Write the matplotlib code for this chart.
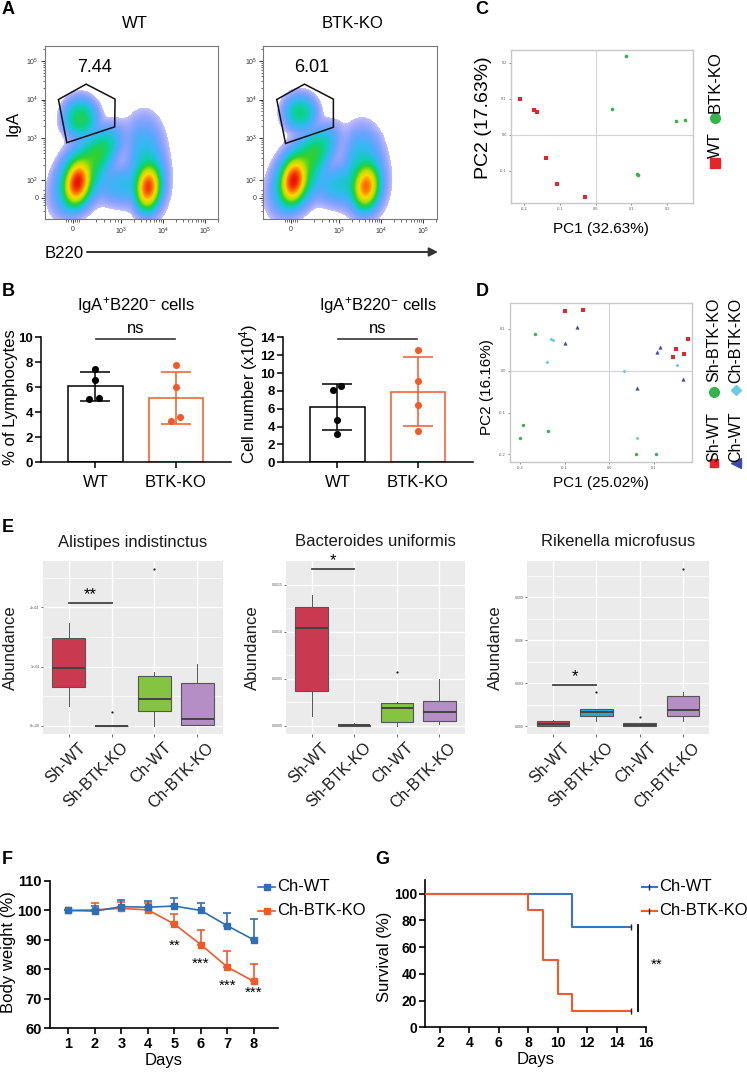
import numpy as np
import matplotlib
matplotlib.use("Agg")
import matplotlib.pyplot as plt
import matplotlib.transforms as mtrans
from matplotlib.colors import LinearSegmentedColormap

plt.rcParams['font.family'] = ['Liberation Sans', 'DejaVu Sans']
plt.rcParams['mathtext.fontset'] = 'custom'
plt.rcParams['mathtext.rm'] = 'Liberation Sans'
plt.rcParams['mathtext.it'] = 'Liberation Sans:italic'
plt.rcParams['mathtext.bf'] = 'Liberation Sans:bold'

# ======================= DATA =======================
# --- A: flow cytometry (transformed axis units: decades) ---
flow_groups = ['WT', 'BTK-KO']
gate_percent = ['7.44', '6.01']
gate_u = [[1.51, 2.17, 2.86, 2.85, 1.71], [1.51, 2.17, 2.86, 2.86, 1.72]]
gate_v = [[4.00, 4.40, 4.01, 3.29, 2.88], [4.00, 4.40, 4.01, 3.28, 2.86]]
# populations: (B220 centre, IgA centre, sd B220, sd IgA, correlation, relative weight)
wt_populations = [
    (1.95, 1.82, 0.13, 0.24, 0.20, 1.00),
    (2.00, 1.95, 0.28, 0.42, 0.35, 0.10),
    (2.45, 2.60, 0.26, 0.33, 0.50, 0.07),
    (2.02, 3.50, 0.20, 0.26, 0.00, 0.075),
    (3.65, 1.70, 0.12, 0.24, 0.10, 0.80),
    (3.65, 1.90, 0.22, 0.45, 0.00, 0.05),
    (3.00, 1.75, 0.33, 0.28, 0.00, 0.02),
    (3.55, 2.80, 0.25, 0.45, 0.00, 0.015),
]
ko_populations = [
    (1.91, 1.87, 0.13, 0.24, 0.20, 1.00),
    (1.98, 1.95, 0.28, 0.42, 0.35, 0.10),
    (2.40, 2.60, 0.26, 0.33, 0.50, 0.065),
    (2.06, 3.65, 0.20, 0.24, 0.00, 0.055),
    (3.65, 1.72, 0.13, 0.24, 0.10, 0.60),
    (3.60, 1.90, 0.25, 0.45, 0.00, 0.05),
    (3.00, 1.75, 0.33, 0.28, 0.00, 0.025),
    (3.55, 2.70, 0.25, 0.40, 0.00, 0.012),
]

# --- B: bar charts ---
b_groups = ['WT', 'BTK-KO']
pct_mean = [6.08, 5.17]
pct_sd = [1.14, 2.08]
pct_wt = [7.44, 6.61, 5.06, 5.14]
pct_ko = [7.76, 6.00, 3.33, 3.60]
cell_mean = [6.16, 7.90]
cell_sd = [2.57, 3.85]
cell_wt = [8.13, 8.51, 4.74, 3.20]
cell_ko = [12.57, 9.10, 6.45, 3.50]

# --- C: PCoA WT vs BTK-KO ---
c_wt_pc1 = [-0.212, -0.171, -0.163, -0.137, -0.109, -0.029]
c_wt_pc2 = [0.100, 0.070, 0.063, -0.065, -0.138, -0.172]
c_ko_pc1 = [0.085, 0.046, 0.224, 0.249, 0.117, 0.118]
c_ko_pc2 = [0.218, 0.073, 0.037, 0.042, -0.108, -0.112]

# --- D: PCoA four groups ---
d_shwt_pc1 = [-0.098, -0.059, 0.149, 0.142, 0.166, 0.175]
d_shwt_pc2 = [0.142, 0.145, 0.053, 0.034, 0.040, 0.077]
d_shko_pc1 = [-0.166, -0.194, -0.199, -0.136, 0.059, 0.104]
d_shko_pc2 = [0.088, -0.130, -0.160, -0.143, -0.200, -0.199]
d_chwt_pc1 = [-0.073, -0.100, 0.106, 0.114, 0.164, 0.062]
d_chwt_pc2 = [0.105, 0.067, 0.044, 0.057, -0.019, -0.042]
d_chko_pc1 = [-0.130, -0.125, -0.140, 0.034, 0.151, 0.063]
d_chko_pc2 = [0.075, 0.073, 0.022, 0.000, 0.015, -0.161]

# --- E: box plots (whislo, q1, med, q3, whishi, fliers) ---
e_groups = ['Sh-WT', 'Sh-BTK-KO', 'Ch-WT', 'Ch-BTK-KO']
e_titles = ['Alistipes indistinctus', 'Bacteroides uniformis', 'Rikenella microfusus']
alistipes = [(0.34, 0.66, 0.98, 1.48, 1.73, []),
             (0.0, 0.0, 0.0, 0.0, 0.0, [0.23]),
             (0.0, 0.26, 0.46, 0.84, 0.905, [2.65]),
             (0.01, 0.022, 0.118, 0.725, 1.04, [])]          # x 1e-4
bacteroides = [(1.1, 3.7, 10.4, 12.6, 13.9, []),
               (0.0, 0.0, 0.08, 0.15, 0.29, []),
               (0.0, 0.39, 1.87, 2.4, 2.5, [5.7]),
               (0.18, 0.53, 1.48, 2.6, 5.0, [])]             # x 1e-4
rikenella = [(0.0, 0.0, 0.14, 0.37, 0.44, []),
             (0.39, 0.74, 1.0, 1.19, 1.19, [2.39]),
             (0.0, 0.02, 0.11, 0.2, 0.25, [0.67]),
             (0.39, 0.74, 1.14, 2.09, 2.39, [11.0])]         # x 1e-3
e_yticks = [[0, 1, 2], [0, 5, 10, 15], [0, 3, 6, 9]]
e_yticklabels = [['0e+00', '1e-04', '2e-04'],
                 ['0.0000', '0.0005', '0.0010', '0.0015'],
                 ['0.000', '0.003', '0.006', '0.009']]
e_sig = [('**', 2.08), ('*', 16.7), ('*', 2.88)]

# --- F: body weight ---
days = [1, 2, 3, 4, 5, 6, 7, 8]
wt_weight = [100.0, 99.8, 101.3, 101.1, 101.5, 100.0, 94.8, 90.0]
wt_weight_err = [0.0, 1.7, 2.4, 2.0, 2.8, 2.4, 4.5, 7.1]
ko_weight = [100.0, 100.2, 100.7, 100.2, 95.4, 88.4, 80.8, 75.9]
ko_weight_err = [0.0, 2.4, 2.2, 2.4, 3.4, 4.9, 5.4, 6.0]
f_star_days = [5, 6, 7, 8]
f_star_text = ['**', '***', '***', '***']
f_star_y = [88.0, 81.8, 74.5, 72.1]

# --- G: survival ---
wt_surv_t = [1, 11, 15]
wt_surv = [100, 75, 75]
ko_surv_t = [1, 8, 9, 10, 11, 15]
ko_surv = [100, 87.5, 50, 25, 12.5, 12.5]

# ======================= FIGURE =======================
W, H = 747, 1072
fig = plt.figure(figsize=(W / 100, H / 100), dpi=100)


def pax(l, t, r, b, **kw):
    return fig.add_axes([l / W, 1 - b / H, (r - l) / W, (b - t) / H], **kw)


ORANGE = '#F15A29'
BLUE = '#2F6DB5'

# ---------- A ----------
flow_cmap = LinearSegmentedColormap.from_list(
    'flow', ['#2a2af5', '#1868ff', '#00a8f0', '#00d0a0', '#30d030', '#b8e000',
             '#ffd800', '#ff7000', '#e81000'])
xl, yl = (1.19, 5.32), (0.89, 5.39)
uu = np.linspace(xl[0], xl[1], 175)
vv = np.linspace(yl[0], yl[1], 175)
U, V = np.meshgrid(uu, vv)
for k, (left, pops) in enumerate([(45, wt_populations), (263.3, ko_populations)]):
    ax = pax(left, 46, left + 173.3, 219.3)
    D = np.zeros_like(U)
    for (cu, cv, su, sv, r, w) in pops:
        du = (U - cu) / su
        dv = (V - cv) / sv
        D += w * np.exp(-0.5 * (du * du - 2 * r * du * dv + dv * dv) / (1 - r * r))
    L = np.log10(D / D.max())
    lo = -2.9
    t = np.clip((L - lo) / (-lo), 0, 1) ** 1.5
    rgba = flow_cmap(t)
    rgba[..., 3] = np.clip(0.28 + (L - lo) * 0.45, 0, 1)
    rgba[L < lo] = (1, 1, 1, 0)
    ax.imshow(rgba, extent=(xl[0], xl[1], yl[0], yl[1]), origin='lower',
              interpolation='nearest', aspect='auto')
    ax.fill(gate_u[k] + [gate_u[k][0]], gate_v[k] + [gate_v[k][0]], facecolor='none',
            edgecolor='#111111', lw=1.1)
    ax.set_xlim(xl)
    ax.set_ylim(yl)
    ax.set_xticks([1.85, 3, 4, 5], ['0', '$10^3$', '$10^4$', '$10^5$'])
    ax.set_yticks([1.45, 1.9, 3, 4, 5], ['0', '$10^2$', '$10^3$', '$10^4$', '$10^5$'])
    mx = [1.70, 1.75, 1.80, 1.90, 1.95, 2.0, 2.4, 2.6, 2.75, 2.85, 2.92]
    mx += [d + np.log10(m) for d in (3, 4) for m in range(2, 10)] + [5 + np.log10(2)]
    my = [1.1, 1.25, 1.35, 1.40, 1.50, 1.55, 1.65]
    my += [d + np.log10(m) for d in (2, 3, 4) for m in range(2, 10)] + [5 + np.log10(2)]
    ax.set_xticks(mx, minor=True)
    ax.set_yticks(my, minor=True)
    ax.tick_params(which='major', length=3, width=0.7, labelsize=5, pad=1.5, colors='#333333')
    ax.tick_params(which='minor', length=1.8, width=0.5, colors='#333333')
    for s in ax.spines.values():
        s.set_color('#777777')
        s.set_linewidth(0.8)

# ---------- B ----------
b_jit_pct = [[0.0, 0.0, -0.075, 0.05], [0.0, 0.0, -0.06, 0.055]]
b_jit_cell = [[-0.06, 0.05, 0.0, 0.0], [0.0, 0.0, 0.0, 0.0]]
for (left, means, sds, pts, jit, ymax) in [
        (40.7, pct_mean, pct_sd, [pct_wt, pct_ko], b_jit_pct, 10),
        (282.7, cell_mean, cell_sd, [cell_wt, cell_ko], b_jit_cell, 14)]:
    ax = pax(left, 337.3, left + 190, 462.3)
    cols = ['black', ORANGE]
    for i in range(2):
        ax.bar(i, means[i], width=0.675, facecolor='white', edgecolor=cols[i], lw=1.1, zorder=2)
        ax.errorbar(i, means[i], yerr=sds[i], color=cols[i], capsize=11, capthick=1.1,
                    lw=1.1, zorder=3)
        ax.scatter(np.array(jit[i]) + i, pts[i], s=26, color=cols[i], zorder=4, linewidths=0)
    ax.set_xlim(-0.68, 1.68)
    ax.set_ylim(0, ymax)
    ax.set_yticks(range(0, ymax + 1, 2))
    ax.set_xticks([0, 1], b_groups)
    ax.spines[['top', 'right']].set_visible(False)
    for s in ('left', 'bottom'):
        ax.spines[s].set_linewidth(1.1)
    ax.tick_params(axis='both', length=4, width=1.1)
    ax.tick_params(axis='y', labelsize=9.5, pad=1.5)
    for lab in ax.get_yticklabels():
        lab.set_fontweight('bold')
    ax.tick_params(axis='x', labelsize=12, pad=5)
    ax.plot([0.01, 0.99], [ymax * 0.985, ymax * 0.985], color='#333333', lw=1.2, clip_on=False)
    ax.text(0.5, ymax * 1.067, 'ns', ha='center', va='center', fontsize=12)
    ax.text(0.5, ymax * 1.258, 'IgA$^{+}$B220$^{-}$ cells', ha='center', va='center',
            fontsize=12)

# ---------- C ----------
ax = pax(511, 50, 693, 203)
ax.axhline(0, color='#D4D4D4', lw=0.8, zorder=0)
ax.axvline(0, color='#D4D4D4', lw=0.8, zorder=0)
ax.scatter(c_wt_pc1, c_wt_pc2, marker='s', s=9, color='#E3262A', linewidths=0)
ax.scatter(c_ko_pc1, c_ko_pc2, marker='o', s=7, color='#35B44A', linewidths=0)
ax.set_xlim(-0.236, 0.272)
ax.set_ylim(-0.19, 0.236)
ax.set_xticks([-0.2, -0.1, 0.0, 0.1, 0.2], ['-0.2', '-0.1', '0.0', '0.1', '0.2'])
ax.set_yticks([-0.1, 0.0, 0.1, 0.2], ['-0.1', '0.0', '0.1', '0.2'])
ax.tick_params(length=1.5, width=0.5, labelsize=2.8, pad=1.5, colors='#555555')
for s in ax.spines.values():
    s.set_color('#C8C8C8')
    s.set_linewidth(1.0)

# ---------- D ----------
ax = pax(510, 303, 692, 462)
ax.axhline(0, color='#D4D4D4', lw=0.8, zorder=0)
ax.axvline(0, color='#D4D4D4', lw=0.8, zorder=0)
ax.scatter(d_shwt_pc1, d_shwt_pc2, marker='s', s=7, color='#E3262A', linewidths=0)
ax.scatter(d_shko_pc1, d_shko_pc2, marker='o', s=6, color='#35B44A', linewidths=0)
ax.scatter(d_chwt_pc1, d_chwt_pc2, marker='^', s=9, color='#3A4AA6', linewidths=0)
ax.scatter(d_chko_pc1, d_chko_pc2, marker='D', s=4, color='#6CCBE0', linewidths=0)
ax.set_xlim(-0.222, 0.185)
ax.set_ylim(-0.218, 0.162)
ax.set_xticks([-0.2, -0.1, 0.0, 0.1], ['-0.2', '-0.1', '0.0', '0.1'])
ax.set_yticks([-0.2, -0.1, 0.0, 0.1], ['-0.2', '-0.1', '0.0', '0.1'])
ax.tick_params(length=1.5, width=0.5, labelsize=2.8, pad=1.5, colors='#555555')
for s in ax.spines.values():
    s.set_color('#C8C8C8')
    s.set_linewidth(1.0)

# ---------- E ----------
e_colors = ['#C93A50', '#2AA7D6', '#85C440', '#B48EC5']
e_data = [alistipes, bacteroides, rikenella]
e_ylims = [(-0.135, 2.78), (-0.85, 17.5), (-0.54, 11.53)]
e_minor = [[0.5, 1.5, 2.5], [2.5, 7.5, 12.5], [1.5, 4.5, 7.5, 10.5]]
e_lefts = [(43, 223), (286, 465), (527, 709)]
for j in range(3):
    l, r = e_lefts[j]
    ax = pax(l, 561, r, 734)
    ax.set_facecolor('#EBEBEB')
    for yv in e_minor[j]:
        ax.axhline(yv, color='white', lw=0.5, zorder=0)
    for yv in e_yticks[j]:
        ax.axhline(yv, color='white', lw=1.0, zorder=0)
    for xv in range(1, 5):
        ax.axvline(xv, color='white', lw=1.0, zorder=0)
    stats = []
    for (wl, q1, md, q3, wh, fl) in e_data[j]:
        stats.append(dict(whislo=wl, q1=q1, med=md, q3=q3, whishi=wh, fliers=fl))
    bp = ax.bxp(stats, positions=[1, 2, 3, 4], widths=0.76, patch_artist=True,
                showcaps=False,
                boxprops=dict(edgecolor='#555555', linewidth=0.8),
                whiskerprops=dict(color='#555555', linewidth=0.7),
                medianprops=dict(color='#444444', linewidth=1.4),
                flierprops=dict(marker='o', markersize=1.6, markerfacecolor='#222222',
                                markeredgecolor='none'))
    for patch, c in zip(bp['boxes'], e_colors):
        patch.set_facecolor(c)
    ax.set_xlim(0.4, 4.6)
    ax.set_ylim(e_ylims[j])
    ax.set_yticks(e_yticks[j], e_yticklabels[j])
    ax.set_xticks([1, 2, 3, 4], e_groups)
    for s in ax.spines.values():
        s.set_visible(False)
    ax.tick_params(axis='y', length=1.5, width=0.5, labelsize=2.6, pad=1, colors='#333333',
                   labelcolor='#555555')
    ax.tick_params(axis='x', length=2, width=0.5, colors='#333333', labelsize=11.5,
                   labelcolor='#1a1a1a', pad=1)
    off = mtrans.ScaledTranslation(0.09, -0.02, fig.dpi_scale_trans)
    for lab in ax.get_xticklabels():
        lab.set_rotation(45)
        lab.set_ha('right')
        lab.set_va('top')
        lab.set_rotation_mode('anchor')
        lab.set_transform(lab.get_transform() + off)
    txt, yb = e_sig[j]
    ax.plot([1, 2], [yb, yb], color='#444444', lw=1.3)
    span = e_ylims[j][1] - e_ylims[j][0]
    ax.text(1.5, yb + span * 0.005, txt, ha='center', va='bottom', fontsize=12)

# ---------- F ----------
ax = pax(50, 881, 278, 1028.3)
ax.errorbar(days, ko_weight, yerr=[np.zeros(len(days)), ko_weight_err], color=ORANGE,
            marker='s', ms=5, lw=1.2, capsize=3, capthick=1.2, zorder=3)
ax.errorbar(days, wt_weight, yerr=[np.zeros(len(days)), wt_weight_err], color=BLUE,
            marker='s', ms=5, lw=1.2, capsize=3, capthick=1.2, zorder=4)
for dd, st, sy in zip(f_star_days, f_star_text, f_star_y):
    ax.text(dd, sy, st, ha='center', va='center', fontsize=11)
ax.set_xlim(0.31, 8.91)
ax.set_ylim(60, 110)
ax.set_xticks(days)
ax.set_yticks(range(60, 111, 10))
ax.spines[['top', 'right']].set_visible(False)
for s in ('left', 'bottom'):
    ax.spines[s].set_linewidth(1.2)
ax.tick_params(length=4, width=1.2, labelsize=10.5, pad=2)
for lab in ax.get_xticklabels() + ax.get_yticklabels():
    lab.set_fontweight('bold')
ax.set_xlabel('Days', fontsize=12, labelpad=2)

# ---------- G ----------
ax = pax(425.3, 880.3, 646, 1027.3)
ax.step(wt_surv_t, wt_surv, where='post', color='#3B74C0', lw=1.5, zorder=3)
ax.step(ko_surv_t, ko_surv, where='post', color=ORANGE, lw=1.5, zorder=4)
ax.plot([wt_surv_t[-1]], [wt_surv[-1]], marker='|', ms=4, mew=1.0, color='#222222', zorder=5)
ax.plot([ko_surv_t[-1]], [ko_surv[-1]], marker='|', ms=4, mew=1.0, color='#222222', zorder=5)
ax.plot([15.48, 15.48], [12.4, 76.6], color='black', lw=1.3, clip_on=False)
ax.text(16.7, 46.6, '**', ha='center', va='center', fontsize=11)
ax.set_xlim(1, 16)
ax.set_ylim(0, 110)
ax.set_xticks(range(2, 17, 2))
ax.set_yticks(range(0, 101, 20))
ax.spines[['top', 'right']].set_visible(False)
for s in ('left', 'bottom'):
    ax.spines[s].set_linewidth(1.2)
ax.tick_params(length=4, width=1.2, labelsize=10, pad=2)
for lab in ax.get_xticklabels() + ax.get_yticklabels():
    lab.set_fontweight('bold')
ax.set_xlabel('Days', fontsize=12, labelpad=2)

# ---------- overlay: labels & legends ----------
ov = fig.add_axes([0, 0, 1, 1])
ov.set_xlim(0, W)
ov.set_ylim(H, 0)
ov.axis('off')
for lab, x, y in [('A', 2, 9), ('B', 2, 292), ('C', 475, 9), ('D', 476, 292),
                  ('E', 2, 528), ('F', 2, 860), ('G', 375, 860)]:
    ov.text(x, y, lab, fontsize=13, fontweight='bold', ha='left', va='center')
# A texts
ov.text(135, 23, flow_groups[0], fontsize=12, ha='center', va='center')
ov.text(353, 23, flow_groups[1], fontsize=12, ha='center', va='center')
ov.text(94, 67, gate_percent[0], fontsize=13, ha='center', va='center')
ov.text(312, 67, gate_percent[1], fontsize=13, ha='center', va='center')
ov.text(13, 123, 'IgA', fontsize=12, rotation=90, ha='center', va='center')
ov.text(45, 253, 'B220', fontsize=12, ha='left', va='center')
ov.annotate('', xy=(438, 252), xytext=(87, 252),
            arrowprops=dict(arrowstyle='-|>', lw=1.4, color='#333333', mutation_scale=13,
                            shrinkA=0, shrinkB=0))
# B y labels
ov.text(11, 397, '% of Lymphocytes', fontsize=12, rotation=90, ha='center', va='center')
ov.text(249, 394, 'Cell number (x10$^{4}$)', fontsize=12, rotation=90, ha='center',
        va='center')
# C labels and legend
ov.text(601, 229, 'PC1 (32.63%)', fontsize=11, ha='center', va='center')
ov.text(483, 118, 'PC2 (17.63%)', fontsize=14, rotation=90, ha='center', va='center')
ov.plot([715], [162.7], marker='s', ms=6.5, color='#E3262A', ls='none')
ov.text(715, 145, 'WT', fontsize=12, rotation=90, ha='center', va='center')
ov.plot([715], [118], marker='o', ms=7, color='#35B44A', ls='none')
ov.text(715, 82, 'BTK-KO', fontsize=12, rotation=90, ha='center', va='center')
# D labels and legend
ov.text(601, 483, 'PC1 (25.02%)', fontsize=11, ha='center', va='center')
ov.text(487, 386.7, 'PC2 (16.16%)', fontsize=11, rotation=90, ha='center', va='center')
ov.plot([714], [462.7], marker='s', ms=6, color='#E3262A', ls='none')
ov.text(714, 436.7, 'Sh-WT', fontsize=11.5, rotation=90, ha='center', va='center')
ov.plot([714], [391.7], marker='o', ms=7, color='#35B44A', ls='none')
ov.text(714, 340, 'Sh-BTK-KO', fontsize=11.5, rotation=90, ha='center', va='center')
ov.plot([736], [462.7], marker='<', ms=6.5, color='#3A4AA6', ls='none')
ov.text(736, 436.7, 'Ch-WT', fontsize=11.5, rotation=90, ha='center', va='center')
ov.plot([736], [390], marker='D', ms=5.5, color='#6CCBE0', ls='none')
ov.text(736, 340, 'Ch-BTK-KO', fontsize=11.5, rotation=90, ha='center', va='center')
# E titles and y labels
for (l, r), title in zip(e_lefts, e_titles):
    ov.text((l + r) / 2, 542, title, fontsize=12, ha='center', va='center', color='#1a1a1a')
for x in (10, 252, 495):
    ov.text(x, 648, 'Abundance', fontsize=12, rotation=90, ha='center', va='center',
            color='#1a1a1a')
# F / G y labels
ov.text(9, 952, 'Body weight (%)', fontsize=12, rotation=90, ha='center', va='center')
ov.text(385, 957, 'Survival (%)', fontsize=12, rotation=90, ha='center', va='center')
# F legend
for y, c, lab in [(886.7, BLUE, 'Ch-WT'), (910.7, ORANGE, 'Ch-BTK-KO')]:
    ov.plot([258, 275], [y, y], color=c, lw=1.2)
    ov.plot([266.5], [y], marker='s', ms=5, color=c)
    ov.text(277, y, lab, fontsize=12, ha='left', va='center')
# G legend
for y, c, lab in [(886.7, '#3B74C0', 'Ch-WT'), (910.7, ORANGE, 'Ch-BTK-KO')]:
    ov.plot([641.7, 657], [y, y], color=c, lw=1.5)
    ov.plot([649.3], [y], marker='|', ms=4, mew=1.0, color='#222222')
    ov.text(659.3, y, lab, fontsize=12, ha='left', va='center')

fig.savefig('out.png', dpi=100)
